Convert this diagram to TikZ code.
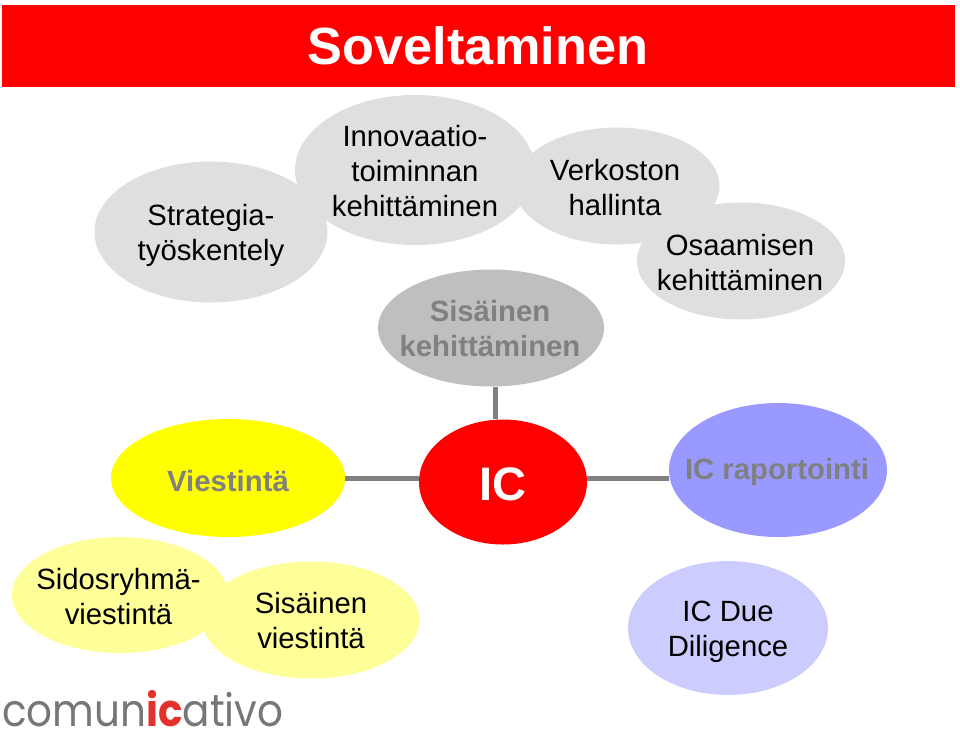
\documentclass[tikz,border=0pt]{standalone}
\usepackage{fontspec}
\setmainfont{Liberation Sans}
\newfontfamily\logofont[FakeStretch=0.9]{Poppins}
\usetikzlibrary{shapes.geometric}
\definecolor{blobgray}{HTML}{DFDFDF}
\definecolor{midgray}{HTML}{BFBFBF}
\definecolor{linegray}{HTML}{808080}
\definecolor{palered}{HTML}{FF0000}
\definecolor{fullyellow}{HTML}{FFFF00}
\definecolor{paleyellow}{HTML}{FFFF99}
\definecolor{paleblue}{HTML}{9999FF}
\definecolor{lavender}{HTML}{CCCCFF}
\definecolor{logogray}{HTML}{77777A}
\definecolor{logored}{HTML}{E2322B}
\tikzset{
  blob/.style={ellipse, inner sep=0pt},
  txt/.style={align=center, inner sep=0pt, font=\fontsize{29.3}{35}\selectfont},
  boldtxt/.style={txt, font=\fontsize{29.3}{35}\selectfont\bfseries, text=linegray},
  link/.style={draw, line width=5pt, color=linegray}
}
\begin{document}
\begin{tikzpicture}[x=1pt,y=-1pt]
\useasboundingbox (0,0) rectangle (960,729);
\node[fill=palered, minimum width=953pt, minimum height=82pt, inner sep=0pt] (head) at (478.5,46) {};
\node[inner sep=0pt, text=white, font=\fontsize{52.3}{60}\selectfont\bfseries] (title) at (478,46) {Soveltaminen};
\node[blob, fill=blobgray, minimum width=233pt, minimum height=141pt] (strat) at (211,232) {};
\node[blob, fill=blobgray, minimum width=240pt, minimum height=150pt] (inno) at (415,170) {};
\node[blob, fill=blobgray, minimum width=205pt, minimum height=117pt] (verk) at (617,186) {};
\node[blob, fill=blobgray, minimum width=208pt, minimum height=117pt] (osaa) at (741,261) {};
\node[blob, fill=midgray, minimum width=226pt, minimum height=117pt] (sis) at (491,328) {};
\node[blob, fill=fullyellow, minimum width=234pt, minimum height=118pt] (vies) at (228,478) {};
\node[blob, fill=palered, minimum width=168pt, minimum height=125pt] (ic) at (503,482) {};
\node[blob, fill=paleblue, minimum width=218pt, minimum height=134pt] (rap) at (778,470) {};
\node[blob, fill=paleyellow, minimum width=216pt, minimum height=116pt] (sido) at (120,595) {};
\node[blob, fill=paleyellow, minimum width=217pt, minimum height=117pt] (sisv) at (311,620) {};
\node[blob, fill=lavender, minimum width=200pt, minimum height=134pt] (due) at (728,628) {};
\path[link] ([xshift=4pt]sis.south) -- ([xshift=-8pt]ic.north);
\path[link] (vies.east) -- (vies.east -| ic.west);
\path[link] ([yshift=4pt]ic.east) -- ([yshift=-8pt]rap.west);
\node[txt] (strattxt) at (211,235) {Strategia-\\työskentely};
\node[txt] (innotxt) at (415,171) {Innovaatio-\\toiminnan\\kehittäminen};
\node[txt] (verktxt) at (615,188) {Verkoston\\hallinta};
\node[txt] (osaatxt) at (740,263) {Osaamisen\\kehittäminen};
\node[boldtxt] (sistxt) at (490,329) {Sisäinen\\kehittäminen};
\node[boldtxt] (viestxt) at (228,481) {Viestintä};
\node[inner sep=0pt, text=white, font=\fontsize{47}{52}\selectfont\bfseries] (ictxt) at (503,484) {IC};
\node[boldtxt] (raptxt) at (777,472) {IC raportointi};
\node[txt] (sidotxt) at (118.5,597) {Sidosryhmä-\\viestintä};
\node[txt] (sisvtxt) at (311,621) {Sisäinen\\viestintä};
\node[txt] (duetxt) at (728,632) {IC Due\\Diligence};
\node[inner sep=0pt, anchor=base west, text=logogray, font=\fontsize{45}{50}\logofont] (logo) at (2,726) {comun{\color{logored}\bfseries ic}ativo};
\end{tikzpicture}
\end{document}
